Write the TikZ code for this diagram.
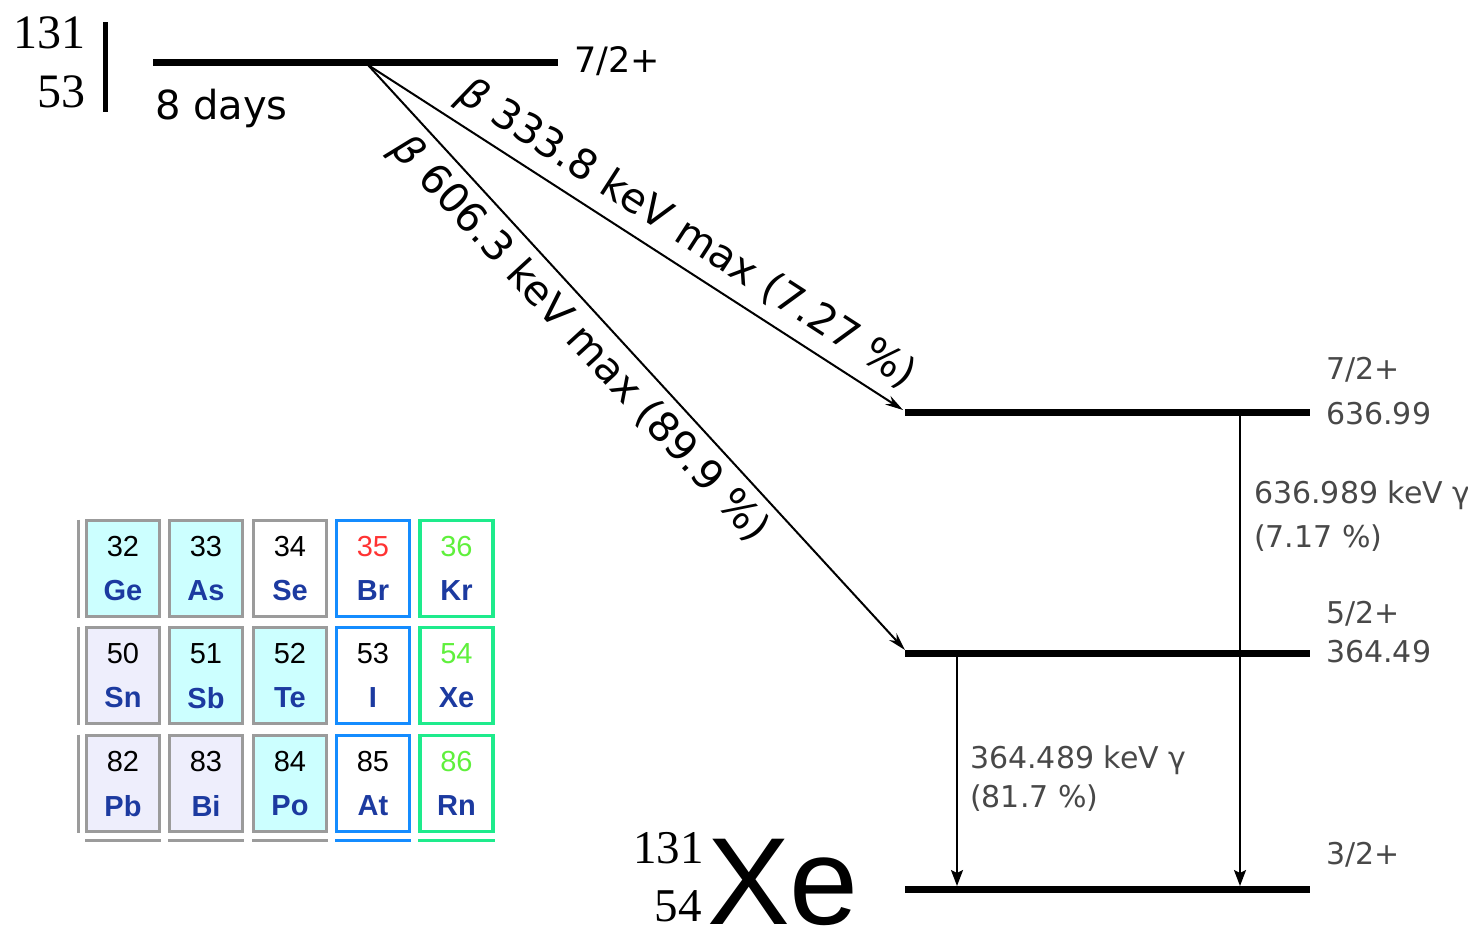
\documentclass[tikz,border=0pt]{standalone}
\usepackage{fontspec}
\setmainfont{DejaVu Sans}
\newfontfamily\seriffont{Liberation Serif}
\newfontfamily\arialfont{Liberation Sans}
\usetikzlibrary{arrows.meta}
\definecolor{lblgray}{RGB}{72,72,72}
\definecolor{cellgray}{RGB}{155,155,155}
\definecolor{halblue}{RGB}{20,140,255}
\definecolor{noblegreen}{RGB}{30,235,140}
\definecolor{metcyan}{RGB}{204,255,255}
\definecolor{postlav}{RGB}{238,238,252}
\definecolor{symblue}{RGB}{28,58,160}
\definecolor{numred}{RGB}{255,51,51}
\definecolor{numgreen}{RGB}{95,240,60}
\newcommand\ptcell[8]{%
  \node[cell, draw=#5, fill=#4] (#1) at (#2,#3) {};
  \node[numtxt, text=#6] (#1n) at ([yshift=21.5pt]#1.center) {#7};
  \node[symtxt] (#1s) at ([yshift=-22.5pt]#1.center) {#8};
}
\begin{document}
\begin{tikzpicture}[x=1pt,y=-1pt,
  level/.style={line width=7pt},
  beta/.style={line width=2pt,-{Stealth[length=18pt,width=10pt]}},
  gam/.style={line width=2.2pt,-{Stealth[length=16pt,width=12pt,inset=3pt]}},
  lbl/.style={font=\fontsize{30}{32}\selectfont, text=lblgray, inner sep=0pt, anchor=west},
  betalbl/.style={font=\fontsize{41}{44}\selectfont, inner sep=3pt, sloped},
  iso/.style={font=\seriffont\fontsize{48}{50}\selectfont, inner sep=0pt, anchor=east},
  cell/.style={minimum width=73pt, minimum height=96pt, line width=3.3pt, inner sep=0pt},
  numtxt/.style={font=\arialfont\fontsize{29}{30}\selectfont, inner sep=0pt},
  symtxt/.style={font=\arialfont\bfseries\fontsize{29}{30}\selectfont, text=symblue, inner sep=0pt},
  frag/.style={line width=3pt}
]
\useasboundingbox (0,0) rectangle (1468,930);

% parent nucleus
\node[iso] (pA) at (86,33) {131};
\node[iso] (pZ) at (86,92) {53};
\draw[line width=5.5pt] (105.5,22) -- (105.5,112);
\coordinate (t0) at (153,62);
\coordinate (t1) at (558,62);
\draw[level] (t0) -- (t1);
\node[font=\fontsize{35}{38}\selectfont, inner sep=0pt, anchor=west] (tspin) at (574,61) {7/2+};
\node[font=\fontsize{40}{44}\selectfont, inner sep=0pt, anchor=base west] (thalf) at (155,119) {8 days};

% daughter levels
\coordinate (l1a) at (905,412);
\coordinate (l1b) at (1310,412);
\coordinate (l2a) at (905,653);
\coordinate (l2b) at (1310,653);
\coordinate (l0a) at (905,889);
\coordinate (l0b) at (1310,889);
\draw[level] (l1a) -- (l1b);
\draw[level] (l2a) -- (l2b);
\draw[level] (l0a) -- (l0b);

\node[lbl] (s1) at (1326,370) {7/2+};
\node[lbl] (e1) at (1326,414) {636.99};
\node[lbl] (s2) at (1326,614) {5/2+};
\node[lbl] (e2) at (1326,652) {364.49};
\node[lbl] (s0) at (1326,855) {3/2+};

% beta transitions
\coordinate (src) at (368,65);
\coordinate (b1) at (903,410);
\coordinate (b2) at (905,650);
\draw[beta] (src) -- node[betalbl, pos=0.565, above=6pt] (bl1) {{\itshape β} 333.8 keV max (7.27 \%)} (b1);
\draw[beta] (src) -- node[betalbl, pos=0.435, below=6pt] (bl2) {{\itshape β} 606.3 keV max (89.9 \%)} (b2);

% gamma transitions
\coordinate (g1t) at (1240,412);
\coordinate (g1b) at (1240,886);
\coordinate (g2t) at (957,653);
\coordinate (g2b) at (957,886);
\draw[gam] (g1t) -- (g1b);
\draw[gam] (g2t) -- (g2b);
\node[lbl] (gl1a) at (1254,495) {636.989 keV γ};
\node[lbl] (gl1b) at (1254,538) {(7.17 \%)};
\node[lbl] (gl2a) at (970,760) {364.489 keV γ};
\node[lbl] (gl2b) at (970,798) {(81.7 \%)};

% daughter nucleus
\node[font=\arialfont\fontsize{124}{124}\selectfont, inner sep=0pt, anchor=base west] (xe) at (707,924) {Xe};
\node[iso, font=\seriffont\fontsize{47}{50}\selectfont] (dA) at (704,848) {131};
\node[iso, font=\seriffont\fontsize{47}{50}\selectfont] (dZ) at (702,906) {54};

% periodic table excerpt
\ptcell{ge}{123}{568.5}{metcyan}{cellgray}{black}{32}{Ge}
\ptcell{as}{206}{568.5}{metcyan}{cellgray}{black}{33}{As}
\ptcell{se}{290}{568.5}{white}{cellgray}{black}{34}{Se}
\ptcell{br}{373}{568.5}{white}{halblue}{numred}{35}{Br}
\ptcell{kr}{456.5}{568.5}{white}{noblegreen}{numgreen}{36}{Kr}
\ptcell{sn}{123}{675.5}{postlav}{cellgray}{black}{50}{Sn}
\ptcell{sb}{206}{675.5}{metcyan}{cellgray}{black}{51}{Sb}
\ptcell{te}{290}{675.5}{metcyan}{cellgray}{black}{52}{Te}
\ptcell{io}{373}{675.5}{white}{halblue}{black}{53}{I}
\ptcell{xc}{456.5}{675.5}{white}{noblegreen}{numgreen}{54}{Xe}
\ptcell{pb}{123}{783.5}{postlav}{cellgray}{black}{82}{Pb}
\ptcell{bi}{206}{783.5}{postlav}{cellgray}{black}{83}{Bi}
\ptcell{po}{290}{783.5}{metcyan}{cellgray}{black}{84}{Po}
\ptcell{at}{373}{783.5}{white}{halblue}{black}{85}{At}
\ptcell{rn}{456.5}{783.5}{white}{noblegreen}{numgreen}{86}{Rn}
% cropped neighbouring cells
\foreach \yy in {568.5,675.5,783.5} {
  \draw[frag, cellgray] (78.5,\yy-49) -- (78.5,\yy+49);
}
\draw[frag, cellgray] (85,840) -- (161,840);
\draw[frag, cellgray] (168,840) -- (244,840);
\draw[frag, cellgray] (252,840) -- (328,840);
\draw[frag, halblue] (335,840) -- (411,840);
\draw[frag, noblegreen] (418,840) -- (495,840);
\end{tikzpicture}
\end{document}
